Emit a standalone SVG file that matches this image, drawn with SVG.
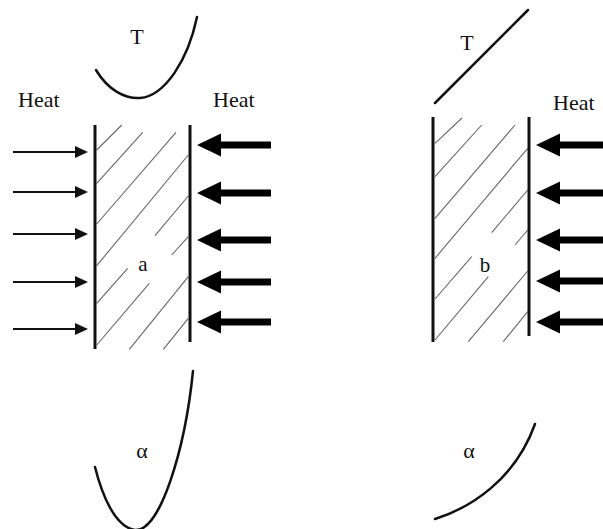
<svg xmlns="http://www.w3.org/2000/svg" xmlns:xlink="http://www.w3.org/1999/xlink" width="603" height="529" viewBox="0 0 603 529">
<style>
text{font-family:"Liberation Serif","Times New Roman",serif;font-size:22px;fill:#111}
.wall{stroke:#111;stroke-width:3;fill:none}
.hatch{stroke:#666;stroke-width:1.1;fill:none}
.curve{stroke:#111;stroke-width:2.5;fill:none;stroke-linecap:round}
.thin{stroke:#111;stroke-width:2}
</style>
<defs>
<path id="thick" d="M0,0 L24,-11.5 L24,-3.5 L74,-3.5 L74,3.5 L24,3.5 L24,11.5 Z" fill="#000"/>
<g id="thinArrow"><line x1="-75" y1="0" x2="-10" y2="0" class="thin"/><path d="M0,0 L-13,-6 L-13,6 Z" fill="#111"/></g>
</defs>
<rect width="603" height="529" fill="#fff"/>
<g id="panel-a">
<g id="hatch-a" class="hatch">
<line x1="96.7" y1="150" x2="121.7" y2="125"/>
<line x1="96.7" y1="183.3" x2="142.7" y2="132.3"/>
<line x1="96.7" y1="224" x2="176" y2="132.3"/>
<line x1="96.7" y1="265.7" x2="188.3" y2="155"/>
<line x1="155" y1="235.7" x2="188.3" y2="196"/>
<line x1="171.7" y1="255" x2="188.3" y2="236.7"/>
<line x1="96.7" y1="303.3" x2="127.7" y2="268.3"/>
<line x1="96.7" y1="345" x2="149.3" y2="283.3"/>
<line x1="129.3" y1="349.3" x2="188.3" y2="276.7"/>
<line x1="163.3" y1="349.3" x2="188.3" y2="318.3"/>
</g>
<line id="wall-a-left" class="wall" x1="95" y1="125" x2="95" y2="349"/>
<line id="wall-a-right" class="wall" x1="190" y1="125" x2="190" y2="342"/>
<text x="143" y="271" text-anchor="middle" style="font-size:21px">a</text>
<path id="T-curve-a" class="curve" d="M96,70 C108,90 125,99 140,98 C165,96 188,60 197,17"/>
<text x="137" y="44" text-anchor="middle">T</text>
<path id="alpha-curve-a" class="curve" d="M95,467 C102,495 115,527 135,530 C160,532 185,450 193,371"/>
<text x="142" y="458" text-anchor="middle">α</text>
<text x="18" y="107">Heat</text>
<text x="213" y="107">Heat</text>
</g>
<g id="connectors">
<use xlink:href="#thinArrow" x="88" y="152"/>
<use xlink:href="#thinArrow" x="88" y="192"/>
<use xlink:href="#thinArrow" x="88" y="234"/>
<use xlink:href="#thinArrow" x="88" y="282"/>
<use xlink:href="#thinArrow" x="88" y="329"/>
<use xlink:href="#thick" x="197" y="145"/>
<use xlink:href="#thick" x="197" y="193"/>
<use xlink:href="#thick" x="197" y="240"/>
<use xlink:href="#thick" x="197" y="282"/>
<use xlink:href="#thick" x="197" y="322"/>
<use xlink:href="#thick" x="536" y="145"/>
<use xlink:href="#thick" x="536" y="193"/>
<use xlink:href="#thick" x="536" y="240"/>
<use xlink:href="#thick" x="536" y="281"/>
<use xlink:href="#thick" x="536" y="322"/>
</g>
<g id="panel-b">
<g id="hatch-b" class="hatch">
<line x1="435" y1="143.3" x2="462" y2="118"/>
<line x1="435" y1="176.7" x2="481.7" y2="125"/>
<line x1="435" y1="218.3" x2="515" y2="125"/>
<line x1="435" y1="258.3" x2="527.7" y2="148.3"/>
<line x1="491.7" y1="232.7" x2="527.7" y2="190"/>
<line x1="515" y1="245" x2="527.7" y2="230"/>
<line x1="435" y1="299" x2="471.7" y2="256.7"/>
<line x1="435" y1="340" x2="488.3" y2="276.7"/>
<line x1="468.3" y1="341.7" x2="527.7" y2="271"/>
<line x1="503.3" y1="341.7" x2="527.7" y2="311.7"/>
</g>
<line id="wall-b-left" class="wall" x1="433" y1="117" x2="433" y2="342"/>
<line id="wall-b-right" class="wall" x1="529" y1="117" x2="529" y2="336"/>
<text x="485" y="272" text-anchor="middle" style="font-size:21px">b</text>
<path id="T-line-b" class="curve" d="M435,103 L528,10"/>
<text x="467" y="50" text-anchor="middle">T</text>
<path id="alpha-curve-b" class="curve" d="M435,519 C470,508 515,480 535,424"/>
<text x="469" y="458" text-anchor="middle">α</text>
<text x="553" y="110">Heat</text>
</g>
</svg>
